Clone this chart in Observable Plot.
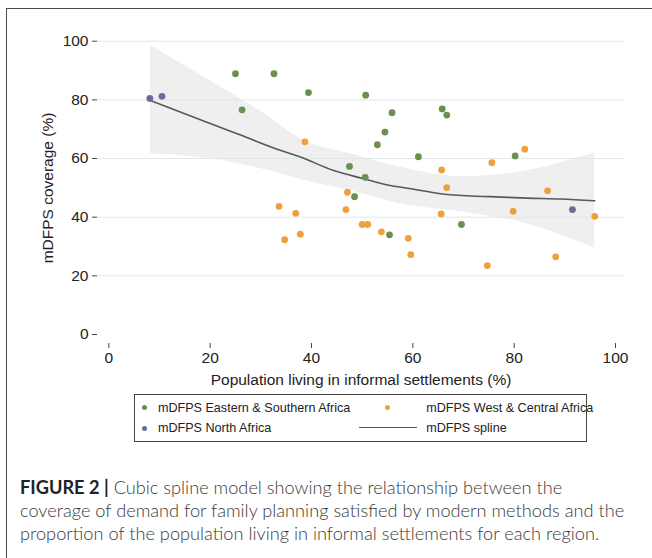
<!DOCTYPE html>
<html>
<head>
<meta charset="utf-8">
<script src="https://cdn.jsdelivr.net/npm/d3@7"></script>
<script src="https://cdn.jsdelivr.net/npm/@observablehq/plot@0.6"></script>
<style>
  html, body { margin: 0; padding: 0; background: #fff; overflow: hidden; }
  body { width: 652px; height: 558px; position: relative; }
  #frame { position: absolute; left: 6px; top: 8px; width: 700px; height: 600px; border: 1.5px solid #4a4a4a; box-sizing: border-box; }
  #chart { position: absolute; left: 0; top: 0; }
  #legend { position: absolute; left: 134px; top: 394px; width: 453px; height: 48px; border: 1px solid #444; box-sizing: border-box;
            font-family: "Liberation Sans", Arial, sans-serif; font-size: 12.6px; color: #222; }
  .li { position: absolute; white-space: nowrap; line-height: 14px; }
  .dot { position: absolute; width: 5px; height: 5px; border-radius: 50%; }
  .ln { position: absolute; height: 0; border-top: 1.4px solid #555; }
  #caption { position: absolute; left: 20px; top: 476px; width: 640px; font-family: "Lato", "Open Sans", sans-serif; font-weight: 300;
             font-size: 18.2px; line-height: 23px; color: #3a3a3a; white-space: nowrap; }
  #caption b { font-weight: 700; color: #222; }
</style>
</head>
<body>
<div id="frame"></div>
<div id="chart"></div>
<div id="legend"></div>
<div id="caption"></div>
<script>
// ---- data ----
const esaX = [25.0, 32.6, 39.4, 26.3, 50.7, 53.0, 47.5, 50.6, 48.5, 55.9, 54.5, 61.1, 65.8, 66.7, 80.2, 69.6, 55.4];
const esaY = [88.9, 88.9, 82.5, 76.6, 81.6, 64.7, 57.3, 53.6, 47.0, 75.6, 69.0, 60.6, 76.9, 74.8, 60.9, 37.5, 34.0];
const wcaX = [38.7, 47.1, 33.6, 36.9, 46.8, 50.0, 51.1, 34.7, 37.8, 53.8, 65.7, 66.7, 75.6, 82.1, 86.6, 95.9, 65.6, 79.8, 59.1, 59.6, 74.7, 88.2];
const wcaY = [65.7, 48.5, 43.7, 41.3, 42.6, 37.5, 37.5, 32.3, 34.2, 35.0, 56.1, 50.1, 58.6, 63.2, 49.0, 40.3, 41.1, 42.0, 32.8, 27.2, 23.5, 26.5];
const naX = [8.1, 10.5, 91.5];
const naY = [80.5, 81.2, 42.6];

const splineX = [8.2, 20, 26, 34, 37.8, 44.4, 50.3, 55, 59.6, 65.5, 71.4, 75.3, 82.6, 89.2, 95.9];
const splineY = [79.8, 71.9, 68.0, 62.7, 60.5, 55.9, 53.1, 51.0, 49.7, 48.0, 47.2, 47.0, 46.5, 46.2, 45.6];

const bandX = [8.2, 20, 30, 38.7, 47.7, 57.6, 70, 82.6, 95.9];
const bandHi = [98.5, 86.5, 76.0, 66.0, 61.6, 57.0, 53.8, 55.9, 62.0];
const bandLo = [61.6, 59.9, 56.5, 52.5, 49.0, 44.5, 41.7, 37.7, 29.5];

const xTicks = [0, 20, 40, 60, 80, 100];
const yTicks = [0, 20, 40, 60, 80, 100];

const regions = ["mDFPS Eastern & Southern Africa", "mDFPS West & Central Africa", "mDFPS North Africa"];
const regionColors = ["#6b8f4e", "#f0a03a", "#6d6a9b"];
const splineLabel = "mDFPS spline";
const xLabel = "Population living in informal settlements (%)";
const yLabel = "mDFPS coverage (%)";

// ---- tables ----
const points = [
  ...esaX.map((x, i) => ({x, y: esaY[i], region: regions[0]})),
  ...wcaX.map((x, i) => ({x, y: wcaY[i], region: regions[1]})),
  ...naX.map((x, i) => ({x, y: naY[i], region: regions[2]}))
];
const spline = splineX.map((x, i) => ({x, y: splineY[i]}));
const band = bandX.map((x, i) => ({x, lo: bandLo[i], hi: bandHi[i]}));
const colorOf = r => regionColors[regions.indexOf(r)];

const chart = Plot.plot({
  width: 652,
  height: 392,
  marginLeft: 97,
  marginRight: 28,
  marginTop: 32,
  marginBottom: 49,
  x: {domain: [0, 100], insetLeft: 11.3, insetRight: 9},
  y: {domain: [0, 100], insetTop: 8.7, insetBottom: 9},
  style: {fontFamily: "'Liberation Sans', Arial, sans-serif", fontSize: "15.5px", color: "#222", background: "transparent", overflow: "visible"},
  marks: [
    Plot.areaY(band, {x: "x", y1: "lo", y2: "hi", fill: "#efefef", curve: "monotone-x"}),
    Plot.gridY(yTicks.filter(d => d > 0), {stroke: "#dce8e9", strokeOpacity: 1, strokeWidth: 1}),
    Plot.line(spline, {x: "x", y: "y", stroke: "#585858", strokeWidth: 1.6, curve: "monotone-x"}),
    Plot.dot(points, {x: "x", y: "y", fill: d => colorOf(d.region), r: 3.4}),
    Plot.axisX(xTicks, {tickSize: 5, tickPadding: 3, line: true, stroke: "#444", fontSize: 15.5, label: xLabel, labelAnchor: "center", labelOffset: 41, labelArrow: "none"}),
    Plot.axisY(yTicks, {tickSize: 5, tickPadding: 4, line: true, stroke: "#444", fontSize: 15.5, label: yLabel, labelAnchor: "center", labelOffset: 56, labelArrow: "none"})
  ]
});
document.getElementById("chart").appendChild(chart);

// ---- legend (HTML) ----
const legend = document.getElementById("legend");
const L = 134, T = 394;
function addDot(cx, cy, color) {
  const d = document.createElement("div");
  d.className = "dot";
  d.style.left = (cx - L - 2.5 - 1) + "px";
  d.style.top = (cy - T - 2.5 - 1) + "px";
  d.style.background = color;
  legend.appendChild(d);
}
function addText(x, cy, txt) {
  const t = document.createElement("div");
  t.className = "li";
  t.style.left = (x - L - 1) + "px";
  t.style.top = (cy - T - 7 - 1) + "px";
  t.textContent = txt;
  legend.appendChild(t);
}
addDot(144.5, 407.5, regionColors[0]); addText(157.9, 407.5, regions[0]);
addDot(387.6, 407.5, regionColors[1]); addText(426.2, 407.5, regions[1]);
addDot(144.5, 428, regionColors[2]); addText(157.9, 428, regions[2]);
const ln = document.createElement("div");
ln.className = "ln";
ln.style.left = (358.9 - L - 1) + "px"; ln.style.top = (428 - T - 1 - 0.7) + "px"; ln.style.width = (416.7 - 358.9) + "px";
legend.appendChild(ln);
addText(426.2, 428, splineLabel);

// ---- caption ----
document.getElementById("caption").innerHTML =
  "<b>FIGURE 2 |</b> Cubic spline model showing the relationship between the<br>" +
  "coverage of demand for family planning satisfied by modern methods and the<br>" +
  "proportion of the population living in informal settlements for each region.";
</script>
</body>
</html>
